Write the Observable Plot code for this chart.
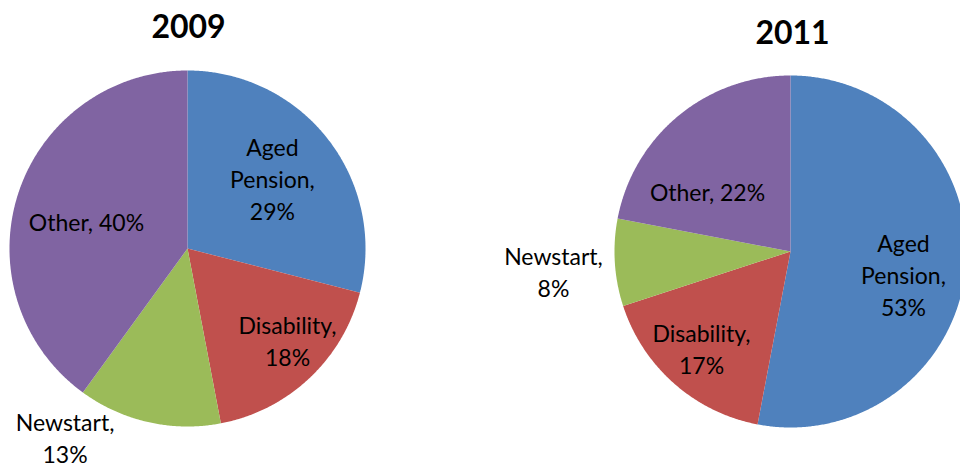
<!DOCTYPE html>
<html>
<head>
<meta charset="utf-8">
<script src="https://cdn.jsdelivr.net/npm/d3@7"></script>
<script src="https://cdn.jsdelivr.net/npm/@observablehq/plot@0.6"></script>
<style>
  html, body { margin: 0; padding: 0; background: #fff; }
  #chart svg { display: block; overflow: hidden; }
</style>
</head>
<body>
<div id="chart"></div>
<script>
// ---- data ----
const categories = ["Aged Pension", "Disability", "Newstart", "Other"];
const categoryLabels = ["Aged\nPension", "Disability", "Newstart", "Other"];
const years = ["2009", "2011"];
const shares2009 = [29, 18, 13, 40];
const shares2011 = [53, 17, 8, 22];
const colors = ["#4F81BD", "#C0504D", "#9BBB59", "#8064A2"];

// ---- layout (positions / styles) ----
const W = 960, H = 472;
const layout = [
  { year: years[0], values: shares2009, cx: 187, cy: 248, r: 178, titleX: 188, titleY: 27,
    label: [[0.622, -2.1], [0.76, -4.5], [1.26, 20.5], [0.589, -2.5]],
    sep: [",\n", ",\n", ",\n", ", "] },
  { year: years[1], values: shares2011, cx: 790, cy: 251, r: 176, titleX: 792, titleY: 33,
    label: [[0.654, 5.6], [0.744, 1.4], [1.351, -1.0], [0.585, -14.1]],
    sep: [",\n", ",\n", ",\n", ", "] }
];

const rad = Math.PI / 180;
const polys = [];
const labels = [];
const titles = [];
for (const p of layout) {
  const arcs = d3.pie().sort(null).value(d => d)(p.values);
  titles.push({ text: p.year, x: p.titleX, y: p.titleY });
  arcs.forEach((a, i) => {
    const id = p.year + "-" + categories[i];
    const a0 = a.startAngle, a1 = a.endAngle;
    polys.push({ id, category: categories[i], x: p.cx, y: p.cy });
    const n = Math.max(2, Math.ceil((a1 - a0) / (0.4 * rad)));
    for (let k = 0; k <= n; k++) {
      const t = a0 + (a1 - a0) * k / n;
      polys.push({ id, category: categories[i], x: p.cx + p.r * Math.sin(t), y: p.cy - p.r * Math.cos(t) });
    }
    polys.push({ id, category: categories[i], x: p.cx, y: p.cy });
    const [kr, dA] = p.label[i];
    const mid = (a0 + a1) / 2 + dA * rad;
    labels.push({
      text: categoryLabels[i] + p.sep[i] + p.values[i] + "%",
      x: p.cx + kr * p.r * Math.sin(mid),
      y: p.cy - kr * p.r * Math.cos(mid)
    });
  });
}

const chart = Plot.plot({
  width: W,
  height: H,
  margin: 0,
  x: { domain: [0, W], range: [0, W], axis: null },
  y: { domain: [0, H], range: [0, H], axis: null },
  color: { domain: categories, range: colors },
  style: { fontFamily: "Lato, 'Open Sans', sans-serif", background: "#fff" },
  marks: [
    Plot.line(polys, { x: "x", y: "y", z: "id", fill: "category", stroke: null, curve: "linear" }),
    Plot.text(labels, { x: "x", y: "y", text: "text", fontSize: 23, lineHeight: 1.4, fill: "#000", textAnchor: "middle" }),
    Plot.text(titles, { x: "x", y: "y", text: "text", fontSize: 32, fontWeight: "bold", fill: "#000", textAnchor: "middle" })
  ]
});
document.getElementById("chart").appendChild(chart);
</script>
</body>
</html>
